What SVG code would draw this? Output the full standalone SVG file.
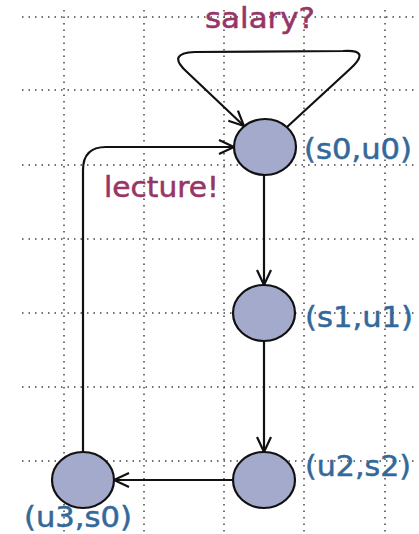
<svg xmlns="http://www.w3.org/2000/svg" width="419" height="534" viewBox="0 0 419 534">
<style>
.grid line{stroke:#444;stroke-width:1.5;stroke-dasharray:1.5 5;}
.loc{fill:#a3aacc;stroke:#111;stroke-width:2.2;}
.edge{fill:none;stroke:#111;stroke-width:2.2;marker-end:url(#arr);}
.name{font-family:"DejaVu Sans",sans-serif;font-size:28px;fill:#33689a;stroke:#33689a;stroke-width:0.5;}
.sync{font-family:"DejaVu Sans",sans-serif;font-size:28px;fill:#963566;stroke:#963566;stroke-width:0.5;}
</style>
<defs>
<marker id="arr" markerUnits="userSpaceOnUse" markerWidth="18" markerHeight="18" viewBox="0 0 18 18" refX="16" refY="9" orient="auto">
<path d="M1,2 L16,9 L1,16" fill="none" stroke="#111" stroke-width="2.2"/>
</marker>
</defs>
<rect width="419" height="534" fill="#fff"/>
<g class="grid">
<line x1="64" y1="10" x2="64" y2="534"/>
<line x1="144" y1="10" x2="144" y2="534"/>
<line x1="224" y1="10" x2="224" y2="534"/>
<line x1="304" y1="10" x2="304" y2="534"/>
<line x1="385" y1="10" x2="385" y2="534"/>
<line x1="22" y1="17" x2="414" y2="17"/>
<line x1="22" y1="90" x2="414" y2="90"/>
<line x1="22" y1="165" x2="414" y2="165"/>
<line x1="22" y1="239" x2="414" y2="239"/>
<line x1="22" y1="313" x2="414" y2="313"/>
<line x1="22" y1="387" x2="414" y2="387"/>
<line x1="22" y1="461" x2="414" y2="461"/>
</g>
<g id="connectors">
<path class="edge" d="M287,127 L350,69 Q372,49 343,51 L195,52 Q166,53 187,72 L244,126"/>
<path class="edge" d="M264,175 L264,285"/>
<path class="edge" d="M264,341 L264,452"/>
<path class="edge" d="M233,480 L114,480"/>
<path class="edge" d="M83,452 L83,170 Q83,147 106,147 L234,147"/>
<text class="sync" x="205" y="28" textLength="110" lengthAdjust="spacingAndGlyphs">salary?</text>
<text class="sync" x="104" y="197" textLength="115" lengthAdjust="spacingAndGlyphs">lecture!</text>
</g>
<g id="s0u0">
<ellipse class="loc" cx="265" cy="147" rx="31" ry="28"/>
<text class="name" x="304" y="159" textLength="108" lengthAdjust="spacingAndGlyphs">(s0,u0)</text>
</g>
<g id="s1u1">
<ellipse class="loc" cx="264" cy="313" rx="31" ry="28"/>
<text class="name" x="305" y="327" textLength="108" lengthAdjust="spacingAndGlyphs">(s1,u1)</text>
</g>
<g id="u2s2">
<ellipse class="loc" cx="264" cy="480" rx="31" ry="28"/>
<text class="name" x="305" y="476" textLength="106" lengthAdjust="spacingAndGlyphs">(u2,s2)</text>
</g>
<g id="u3s0">
<ellipse class="loc" cx="83" cy="480" rx="31" ry="28"/>
<text class="name" x="24" y="527" textLength="108" lengthAdjust="spacingAndGlyphs">(u3,s0)</text>
</g>
</svg>
